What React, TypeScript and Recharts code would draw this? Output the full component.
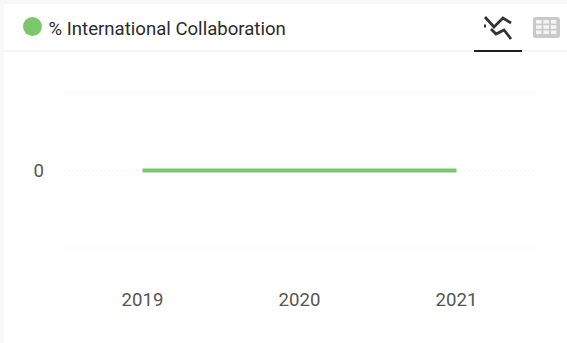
import { CartesianGrid, Line, LineChart, XAxis, YAxis } from "recharts";

const years = ["2019", "2020", "2021"];
const collaboration = [0, 0, 0];
const yTicks = [-1, 0, 1];

const data = years.map((year, i) => ({ year, collaboration: collaboration[i] }));

const GREEN = "#7bc86c";

// only the zero line carries a label
const formatYTick = (value: number) => (value === 0 ? "0" : "");

function ChartIcon() {
  return (
    <svg width={32} height={30} viewBox="0 0 32 30" style={{ position: "absolute", left: 483, top: 13 }}>
      <path
        d="M2 4 L11 14 L20 5 L28 10 M8 16 L13 21 L21 17 L28 26 M1 13 L3 13"
        fill="none"
        stroke="#333"
        strokeWidth={2.8}
      />
    </svg>
  );
}

function TableIcon() {
  const cells = [];
  for (let r = 0; r < 3; r++) {
    for (let c = 0; c < 3; c++) {
      cells.push(<rect key={`${r}-${c}`} x={3 + c * 7.4} y={3 + r * 5.2} width={5.6} height={3.6} fill="#f4f4f4" />);
    }
  }
  return (
    <svg width={27} height={21} viewBox="0 0 27 21" style={{ position: "absolute", left: 533, top: 17 }}>
      <rect x={0} y={0} width={27} height={21} rx={3} fill="#c9c9c9" />
      {cells}
    </svg>
  );
}

export default function App() {
  return (
    <div
      style={{
        position: "absolute",
        left: 0,
        top: 0,
        width: 567,
        height: 343,
        background: "#f8f8f8",
        overflow: "hidden",
        fontFamily: "Roboto, sans-serif",
      }}
    >
      <div style={{ position: "absolute", left: 4, top: 4, width: 563, height: 339, background: "#fff" }} />
      <div style={{ position: "absolute", left: 4, top: 50, width: 563, height: 2, background: "#f6f6f6" }} />

      <div
        style={{
          position: "absolute",
          left: 23,
          top: 17,
          width: 19,
          height: 19,
          borderRadius: "50%",
          background: GREEN,
        }}
      />
      <div style={{ position: "absolute", left: 48.5, top: 19, fontSize: 18.6, lineHeight: "20px", color: "#2b2b2b" }}>
        % International Collaboration
      </div>

      <ChartIcon />
      <TableIcon />
      <div style={{ position: "absolute", left: 474, top: 50, width: 48, height: 2, background: "#1f1f1f" }} />

      <div style={{ position: "absolute", left: 0, top: 0 }}>
        <LineChart
          width={567}
          height={343}
          data={data}
          margin={{ top: 93, right: 32, bottom: 0, left: 0 }}
        >
          <CartesianGrid stroke="#f4f4f4" strokeDasharray="2 2" vertical={false} />
          <XAxis
            dataKey="year"
            scale="band"
            axisLine={false}
            tickLine={false}
            tickSize={0}
            tick={{ fill: "#555", fontSize: 18.6, fontFamily: "Roboto, sans-serif" }}
            tickMargin={45}
            height={95}
          />
          <YAxis
            domain={[-1, 1]}
            ticks={yTicks}
            tickFormatter={formatYTick}
            axisLine={false}
            tickLine={false}
            tickSize={0}
            tick={{ fill: "#555", fontSize: 18.6, fontFamily: "Roboto, sans-serif" }}
            width={64}
            tickMargin={20}
          />
          <Line
            dataKey="collaboration"
            stroke={GREEN}
            strokeWidth={4}
            dot={false}
            type="linear"
            isAnimationActive={false}
          />
        </LineChart>
      </div>
    </div>
  );
}
